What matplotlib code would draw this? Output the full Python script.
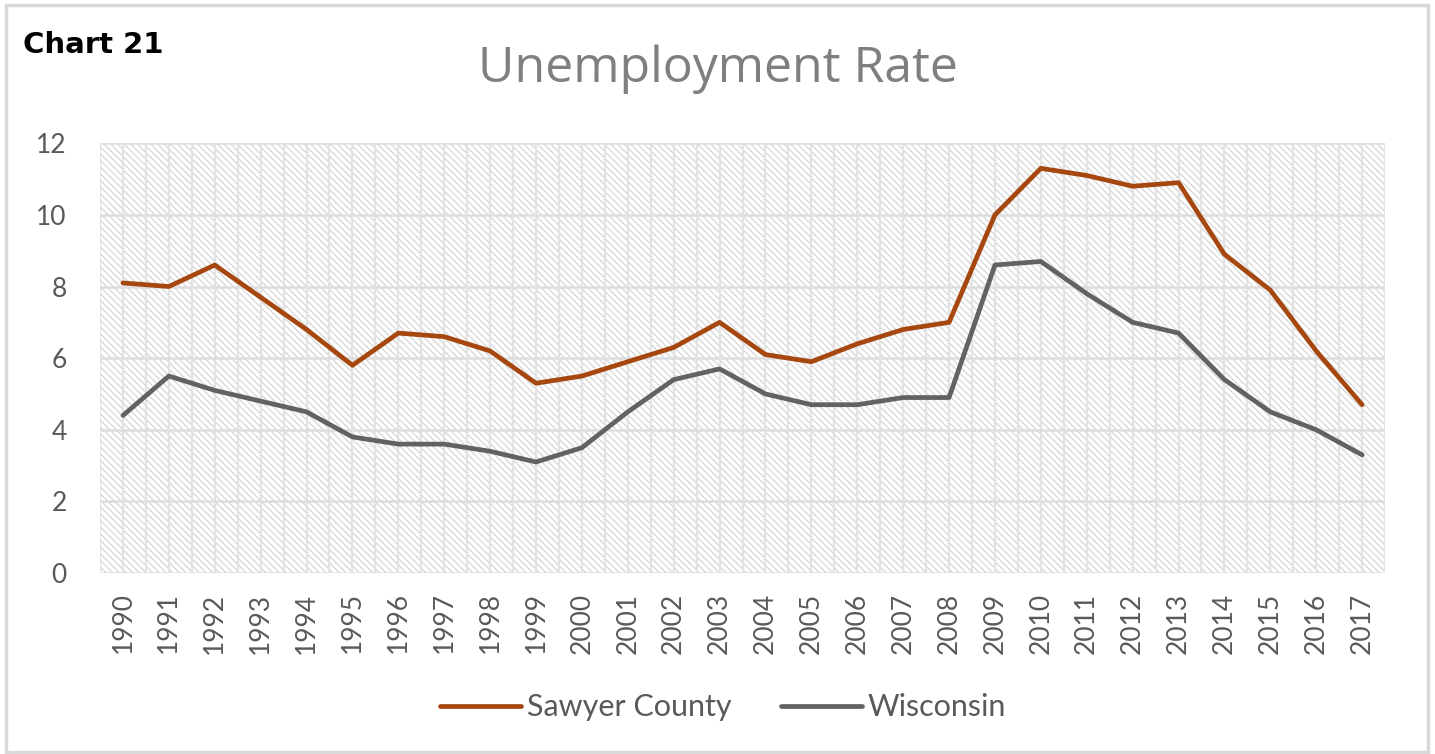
import matplotlib.pyplot as plt
import matplotlib.patches as mpatches
import numpy as np

years = [str(y) for y in range(1990, 2018)]
sawyer = [8.1, 8.0, 8.6, 7.7, 6.8, 5.8, 6.7, 6.6, 6.2, 5.3, 5.5, 5.9, 6.3, 7.0,
          6.1, 5.9, 6.4, 6.8, 7.0, 10.0, 11.3, 11.1, 10.8, 10.9, 8.9, 7.9, 6.2, 4.7]
wisconsin = [4.4, 5.5, 5.1, 4.8, 4.5, 3.8, 3.6, 3.6, 3.4, 3.1, 3.5, 4.5, 5.4, 5.7,
             5.0, 4.7, 4.7, 4.9, 4.9, 8.6, 8.7, 7.8, 7.0, 6.7, 5.4, 4.5, 4.0, 3.3]
yticks = [0, 2, 4, 6, 8, 10, 12]

plt.rcParams['font.family'] = ['Lato', 'DejaVu Sans']
plt.rcParams['hatch.color'] = '#d6d6d6'
plt.rcParams['hatch.linewidth'] = 0.9

fig = plt.figure(figsize=(14.35, 7.54), dpi=100)
ax = fig.add_axes([0.0697, 0.240, 0.8955, 0.570])

# outer chart border
fig.patches.append(mpatches.Rectangle((0.004, 0.003), 0.991, 0.991, transform=fig.transFigure,
                                      fill=False, edgecolor='#d9d9d9', linewidth=2.5))

x = np.arange(len(years))
ax.set_xlim(-0.5, len(years) - 0.5)
ax.set_ylim(0, 12)

# hatched plot area background
ax.add_patch(mpatches.Rectangle((0, 0), 1, 1, transform=ax.transAxes, facecolor='white',
                                hatch='\\\\\\\\\\', edgecolor='#d6d6d6', linewidth=0, zorder=0))

for xv in np.arange(-0.5, len(years), 0.5):
    ax.axvline(xv, color='#e3e3e3', linewidth=1.6, zorder=1)
for yv in yticks:
    ax.axhline(yv, color='#dedede', linewidth=1.8, zorder=1)

ax.plot(x, sawyer, color='#A5470E', linewidth=3.4, label='Sawyer County', zorder=3,
        solid_capstyle='round', solid_joinstyle='round')
ax.plot(x, wisconsin, color='#626262', linewidth=3.4, label='Wisconsin', zorder=3,
        solid_capstyle='round', solid_joinstyle='round')

for s in ax.spines.values():
    s.set_visible(False)
ax.set_xticks(x)
ax.set_xticklabels(years, rotation=90, fontsize=19, color='#595959')
ax.set_yticks(yticks)
ax.set_yticklabels([str(v) for v in yticks], fontsize=19, color='#595959')
ax.tick_params(length=0, pad=14)
ax.tick_params(axis='y', pad=24)

fig.text(0.5, 0.908, 'Unemployment Rate', ha='center', va='center', fontsize=36, color='#7f7f7f',
         family='Open Sans')
fig.text(0.016, 0.94, 'Chart 21', ha='left', va='center', fontsize=21, fontweight='heavy',
         family='DejaVu Sans', color='black')

leg = fig.legend(loc='center', bbox_to_anchor=(0.504, 0.062), ncol=2, frameon=False,
                 fontsize=22, handlelength=2.65, handletextpad=0.2, columnspacing=1.6)
for t in leg.get_texts():
    t.set_color('#595959')

fig.savefig('out.png', dpi=100)
